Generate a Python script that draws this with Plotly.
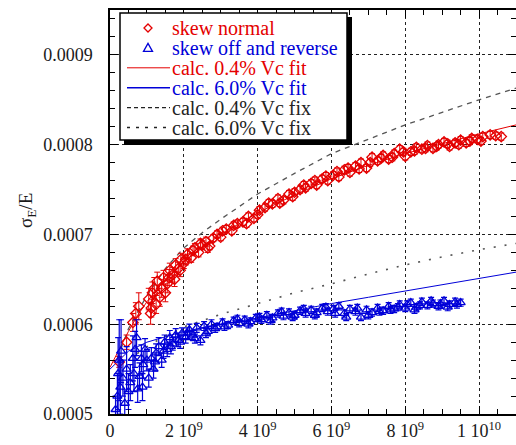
import numpy as np
import plotly.graph_objects as go

# ---------------- data (x in units of 1e9, sigma_E/E in units of 1e-4) ----------------
red_x_e9 = [0.25, 0.45, 0.62, 0.70, 0.78, 1.05, 1.12, 1.20, 1.28, 1.35, 1.45, 1.55, 1.62, 1.70,
            1.78, 1.85, 1.92, 2.00, 2.10, 2.20, 2.30, 2.40, 2.50, 2.60, 2.70, 2.80, 2.90, 3.00,
            3.15, 3.30, 3.45, 3.60, 3.75, 3.90, 4.05, 4.20, 4.40, 4.55, 4.70, 4.85, 5.00, 5.15,
            5.30, 5.45, 5.60, 5.75, 5.90, 6.05, 6.20, 6.35, 6.50, 6.65, 6.80, 6.95, 7.10, 7.25,
            7.40, 7.55, 7.70, 7.85, 8.00, 8.15, 8.30, 8.45, 8.60, 8.75, 8.90, 9.05, 9.20, 9.35,
            9.50, 9.65, 9.80, 9.95, 10.10, 10.30, 10.60,
            1.10, 1.15, 1.25, 1.40, 1.50, 1.60, 1.75, 1.90, 2.05, 2.25, 2.45, 2.65, 3.05, 3.35,
            3.70, 4.00, 4.30, 4.60, 4.95, 5.25, 5.55, 5.85, 6.15, 6.45, 6.75, 7.05, 7.35, 7.65,
            7.95, 8.25, 8.55, 8.85, 9.15, 9.45, 9.75, 10.05, 10.45]
red_y_e4 = [5.58, 5.80, 6.02, 6.12, 6.20, 6.28, 6.18, 6.40, 6.48, 6.30, 6.52, 6.45, 6.60, 6.55,
            6.66, 6.62, 6.72, 6.68, 6.78, 6.74, 6.85, 6.80, 6.88, 6.92, 6.87, 6.96, 7.00, 6.97,
            7.06, 7.04, 7.12, 7.14, 7.20, 7.18, 7.27, 7.30, 7.34, 7.40, 7.38, 7.45, 7.47, 7.50,
            7.52, 7.57, 7.55, 7.62, 7.60, 7.66, 7.64, 7.72, 7.69, 7.76, 7.80, 7.74, 7.86, 7.82,
            7.88, 7.84, 7.90, 7.95, 7.87, 7.92, 7.97, 7.95, 7.99, 7.96, 8.00, 8.03, 7.98, 8.02,
            8.05, 8.02, 8.07, 8.06, 8.09, 8.11, 8.09,
            6.12, 6.35, 6.22, 6.40, 6.35, 6.52, 6.50, 6.60, 6.72, 6.82, 6.90, 6.85, 7.04, 7.10,
            7.12, 7.22, 7.35, 7.35, 7.42, 7.55, 7.60, 7.65, 7.70, 7.74, 7.73, 7.80, 7.85, 7.86,
            7.92, 7.93, 7.96, 7.98, 8.01, 8.00, 8.04, 8.04, 8.10]
red_err_e4 = [0.06, 0.08, 0.10, 0.12, 0.15, 0.12, 0.10, 0.12, 0.10, 0.10, 0.08, 0.10, 0.08, 0.08,
              0.07, 0.07, 0.07, 0.06, 0.06, 0.05, 0.05, 0.05, 0.05, 0.05, 0.04, 0.04, 0.04, 0.04,
              0.04, 0.04, 0.04, 0.04, 0.04, 0.04, 0.04, 0.04, 0.04, 0.04, 0.04, 0.04, 0.04, 0.04,
              0.04, 0.04, 0.04, 0.04, 0.04, 0.04, 0.04, 0.04, 0.04, 0.04, 0.04, 0.04, 0.04, 0.04,
              0.04, 0.04, 0.04, 0.04, 0.04, 0.04, 0.04, 0.04, 0.04, 0.04, 0.04, 0.04, 0.04, 0.04,
              0.04, 0.04, 0.04, 0.04, 0.04, 0.04, 0.04,
              0.12, 0.12, 0.10, 0.10, 0.10, 0.09, 0.08, 0.07, 0.06, 0.05, 0.05, 0.05, 0.04, 0.04,
              0.04, 0.04, 0.04, 0.04, 0.04, 0.04, 0.04, 0.04, 0.04, 0.04, 0.04, 0.04, 0.04, 0.04,
              0.04, 0.04, 0.04, 0.04, 0.04, 0.04, 0.04, 0.04, 0.04]

blue_x_e9 = [0.15, 0.20, 0.22, 0.25, 0.28, 0.35, 0.40, 0.45, 0.55, 0.62, 0.68, 0.72, 0.75, 0.80,
             0.85, 0.90, 0.95, 1.05, 1.12, 1.18, 1.25, 1.32, 1.40, 1.48, 1.55, 1.62, 1.70, 1.78,
             1.85, 1.95, 2.05, 2.15, 2.25, 2.35, 2.45, 2.55, 2.65, 2.75, 2.90, 3.05, 3.20, 3.35,
             3.50, 3.65, 3.80, 3.95, 4.10, 4.25, 4.40, 4.55, 4.70, 4.85, 5.00, 5.15, 5.30, 5.45,
             5.60, 5.75, 5.90, 6.05, 6.20, 6.35, 6.50, 6.65, 6.80, 6.95, 7.10, 7.25, 7.40, 7.55,
             7.70, 7.85, 8.00, 8.15, 8.30, 8.45, 8.60, 8.75, 8.90, 9.05, 9.20, 9.35, 9.50,
             0.30, 0.50, 0.65, 0.88, 1.00, 1.22, 1.45, 1.65, 1.90, 2.10, 2.30, 2.60, 2.85, 3.10,
             3.45, 3.75, 4.05, 4.35, 4.65, 4.95, 5.25, 5.55, 5.85, 6.10, 6.40, 6.70, 7.00, 7.30,
             7.60, 7.80, 8.05, 8.25, 8.40, 8.70, 8.95, 9.15, 9.40]
blue_y_e4 = [5.05, 5.20, 5.45, 5.60, 5.30, 5.40, 5.12, 5.50, 5.35, 5.62, 5.72, 5.85, 5.28, 5.42,
             5.62, 5.55, 5.72, 5.40, 5.62, 5.50, 5.68, 5.75, 5.60, 5.80, 5.72, 5.85, 5.78, 5.88,
             5.82, 5.90, 5.85, 5.94, 5.88, 5.96, 5.82, 5.98, 5.92, 6.00, 5.97, 6.02, 5.99, 6.04,
             6.01, 6.05, 6.03, 6.07, 6.05, 6.10, 6.07, 6.12, 6.09, 6.13, 6.10, 6.15, 6.12, 6.16,
             6.13, 6.18, 6.14, 6.17, 6.20, 6.12, 6.17, 6.14, 6.08, 6.16, 6.13, 6.18, 6.15, 6.20,
             6.17, 6.22, 6.18, 6.24, 6.19, 6.25, 6.21, 6.23, 6.20, 6.26, 6.22, 6.25, 6.24,
             5.70, 5.25, 5.45, 5.30, 5.60, 5.58, 5.70, 5.75, 5.80, 5.90, 5.84, 5.90, 5.95, 5.97,
             6.06, 6.00, 6.08, 6.04, 6.14, 6.08, 6.17, 6.10, 6.19, 6.12, 6.08, 6.18, 6.10, 6.14,
             6.16, 6.19, 6.22, 6.16, 6.21, 6.26, 6.23, 6.19, 6.22]
blue_err_e4 = [0.15, 0.25, 0.40, 0.45, 0.30, 0.20, 0.15, 0.25, 0.20, 0.25, 0.20, 0.20, 0.15, 0.15,
               0.15, 0.15, 0.12, 0.10, 0.12, 0.10, 0.10, 0.10, 0.08, 0.08, 0.08, 0.08, 0.07, 0.07,
               0.07, 0.06, 0.06, 0.06, 0.05, 0.05, 0.05, 0.05, 0.05, 0.05, 0.04, 0.04, 0.04, 0.04,
               0.04, 0.04, 0.04, 0.04, 0.04, 0.04, 0.04, 0.04, 0.04, 0.04, 0.04, 0.04, 0.04, 0.04,
               0.04, 0.04, 0.04, 0.04, 0.04, 0.04, 0.04, 0.04, 0.04, 0.04, 0.04, 0.04, 0.04, 0.04,
               0.04, 0.04, 0.04, 0.04, 0.04, 0.04, 0.04, 0.04, 0.04, 0.04, 0.04, 0.04, 0.04,
               0.35, 0.20, 0.20, 0.15, 0.12, 0.10, 0.08, 0.08, 0.07, 0.06, 0.05, 0.05, 0.04, 0.04,
               0.04, 0.04, 0.04, 0.04, 0.04, 0.04, 0.04, 0.04, 0.04, 0.04, 0.04, 0.04, 0.04, 0.04,
               0.04, 0.04, 0.04, 0.04, 0.04, 0.04, 0.04, 0.04, 0.04]

fit04_x_e9 = [0.0, 0.25, 0.5, 0.75, 1.0, 1.5, 2.0, 2.5, 3.0, 4.0, 5.0, 6.0, 7.0, 8.0, 9.0, 10.0, 11.0]
fit04_y_e4 = [5.52, 5.72, 5.92, 6.10, 6.25, 6.50, 6.70, 6.85, 7.00, 7.24, 7.44, 7.62, 7.77, 7.90, 8.01, 8.12, 8.22]

fit60_x_e9 = [0.0, 0.5, 1.0, 2.0, 3.0, 4.0, 5.0, 6.0, 7.0, 8.0, 9.0, 10.0, 11.0]
fit60_y_e4 = [5.50, 5.70, 5.80, 5.92, 6.00, 6.07, 6.15, 6.23, 6.30, 6.37, 6.44, 6.51, 6.58]

fix04_x_e9 = [0.2, 0.5, 1.0, 1.5, 2.0, 2.5, 3.0, 4.0, 5.0, 6.0, 7.0, 8.0, 9.0, 10.0, 11.0]
fix04_y_e4 = [5.62, 5.95, 6.32, 6.62, 6.85, 7.02, 7.17, 7.45, 7.68, 7.90, 8.06, 8.22, 8.36, 8.50, 8.63]

fix60_x_e9 = [0.5, 1.0, 1.5, 2.0, 2.5, 3.0, 4.0, 5.0, 6.0, 7.0, 8.0, 9.0, 10.0, 11.0]
fix60_y_e4 = [5.60, 5.75, 5.87, 5.97, 6.04, 6.11, 6.23, 6.35, 6.45, 6.56, 6.66, 6.75, 6.83, 6.90]

x_tickvals = [0, 2e9, 4e9, 6e9, 8e9, 1e10]
x_ticktext = ["0", "2 10<sup>9</sup>", "4 10<sup>9</sup>", "6 10<sup>9</sup>",
              "8 10<sup>9</sup>", "1 10<sup>10</sup>"]
y_tickvals = [0.0005, 0.0006, 0.0007, 0.0008, 0.0009]
y_ticktext = ["0.0005", "0.0006", "0.0007", "0.0008", "0.0009"]

legend_labels = ["skew normal", "skew off and reverse", "calc. 0.4% Vc fit",
                 "calc. 6.0% Vc fit", "calc. 0.4% Vc fix", "calc. 6.0% Vc fix"]

# ---------------- styling ----------------
RED = "#e40000"
BLUE = "#0000d8"
GRAY = "#555555"
SERIF = "Liberation Serif, Times New Roman, serif"

W, H = 516, 445
ML, MR, MT, MB = 110, 0, 10, 31
PW, PH = W - ML - MR, H - MT - MB


def e9(v):
    return np.array(v) * 1e9


def e4(v):
    return np.array(v) * 1e-4


fig = go.Figure()

fig.add_trace(go.Scatter(x=e9(fit04_x_e9), y=e4(fit04_y_e4), mode="lines",
                         line=dict(color=RED, width=1), showlegend=False))
fig.add_trace(go.Scatter(x=e9(fit60_x_e9), y=e4(fit60_y_e4), mode="lines",
                         line=dict(color=BLUE, width=1), showlegend=False))
fig.add_trace(go.Scatter(x=e9(fix04_x_e9), y=e4(fix04_y_e4), mode="lines",
                         line=dict(color=GRAY, width=1.3, dash="5px,5px"), showlegend=False))
fig.add_trace(go.Scatter(x=e9(fix60_x_e9), y=e4(fix60_y_e4), mode="lines",
                         line=dict(color=GRAY, width=1.6, dash="2px,9px"), showlegend=False))

fig.add_trace(go.Scatter(x=e9(red_x_e9), y=e4(red_y_e4), mode="markers",
                         marker=dict(symbol="diamond-open", size=8, color=RED, line=dict(width=1.3)),
                         error_y=dict(type="data", array=e4(red_err_e4), color=RED, thickness=1, width=3),
                         showlegend=False))
fig.add_trace(go.Scatter(x=e9(blue_x_e9), y=e4(blue_y_e4), mode="markers",
                         marker=dict(symbol="triangle-up-open", size=8, color=BLUE, line=dict(width=1.3)),
                         error_y=dict(type="data", array=e4(blue_err_e4), color=BLUE, thickness=1.2, width=3),
                         showlegend=False))

axis_common = dict(showline=True, linecolor="black", linewidth=1.5, mirror="ticks",
                   ticks="inside", ticklen=8, tickwidth=1.2, tickcolor="black",
                   showgrid=True, gridcolor="#222222", gridwidth=1.3, griddash="dot",
                   zeroline=False, tickfont=dict(family=SERIF, size=18, color="#1a1a1a"))

fig.update_xaxes(range=[0, 1.1e10], tickmode="array", tickvals=x_tickvals, ticktext=x_ticktext,
                 minor=dict(ticks="inside", ticklen=5, tickcolor="black", tick0=0, dtick=5e8,
                            showgrid=False),
                 **axis_common)
fig.update_yaxes(range=[0.0005, 0.00095], tickmode="array", tickvals=y_tickvals, ticktext=y_ticktext,
                 minor=dict(ticks="inside", ticklen=5, tickcolor="black", tick0=0.0005, dtick=2e-5,
                            showgrid=False),
                 ticklabelstandoff=12,
                 **axis_common)


# ---------------- hand-built legend (pixel positions -> paper coords) ----------------
def px(x):
    return (x - ML) / PW


def py(y):
    return (H - MB - y) / PH


shapes = []
# shadow and frame
shapes.append(dict(type="rect", xref="paper", yref="paper", x0=px(124), x1=px(352), y0=py(145), y1=py(17),
                   fillcolor="black", line=dict(width=0), layer="above"))
shapes.append(dict(type="rect", xref="paper", yref="paper", x0=px(120), x1=px(347), y0=py(140), y1=py(13),
                   fillcolor="white", line=dict(color="black", width=1.5), layer="above"))

rows = [28.0, 47.9, 67.8, 87.7, 107.6, 127.5]
colors = [RED, BLUE, RED, BLUE, "#222222", "#222222"]
sym_x = 148
# marker samples
shapes.append(dict(type="path", xref="paper", yref="paper", xsizemode="pixel", ysizemode="pixel",
                   xanchor=px(sym_x), yanchor=py(rows[0]), path="M -4 0 L 0 4 L 4 0 L 0 -4 Z",
                   line=dict(color=RED, width=1.3), layer="above"))
shapes.append(dict(type="path", xref="paper", yref="paper", xsizemode="pixel", ysizemode="pixel",
                   xanchor=px(sym_x), yanchor=py(rows[1]), path="M -4.5 -3.5 L 4.5 -3.5 L 0 4.5 Z",
                   line=dict(color=BLUE, width=1.3), layer="above"))
# line samples
line_styles = [dict(color=RED, width=1), dict(color=BLUE, width=1.5),
               dict(color="#222222", width=1.3, dash="4px,3px"),
               dict(color="#222222", width=1.3, dash="3px,6px")]
for r, ls in zip(rows[2:], line_styles):
    shapes.append(dict(type="line", xref="paper", yref="paper", x0=px(127), x1=px(170),
                       y0=py(r), y1=py(r), line=ls, layer="above"))

annotations = []
for r, lab, c in zip(rows, legend_labels, colors):
    annotations.append(dict(xref="paper", yref="paper", x=px(171), y=py(r), text=lab,
                            xanchor="left", yanchor="middle", showarrow=False, borderpad=0,
                            font=dict(family=SERIF, size=20, color=c)))

# y-axis title
annotations.append(dict(xref="paper", yref="paper", x=px(27), y=py(211),
                        text="σ<sub>E</sub>/E", textangle=-90, showarrow=False,
                        xanchor="center", yanchor="middle",
                        font=dict(family=SERIF, size=19, color="#1a1a1a")))

fig.update_layout(width=W, height=H, margin=dict(l=ML, r=MR, t=MT, b=MB, autoexpand=False),
                  paper_bgcolor="white", plot_bgcolor="white", showlegend=False,
                  shapes=shapes, annotations=annotations)

fig.write_html("out.html")
